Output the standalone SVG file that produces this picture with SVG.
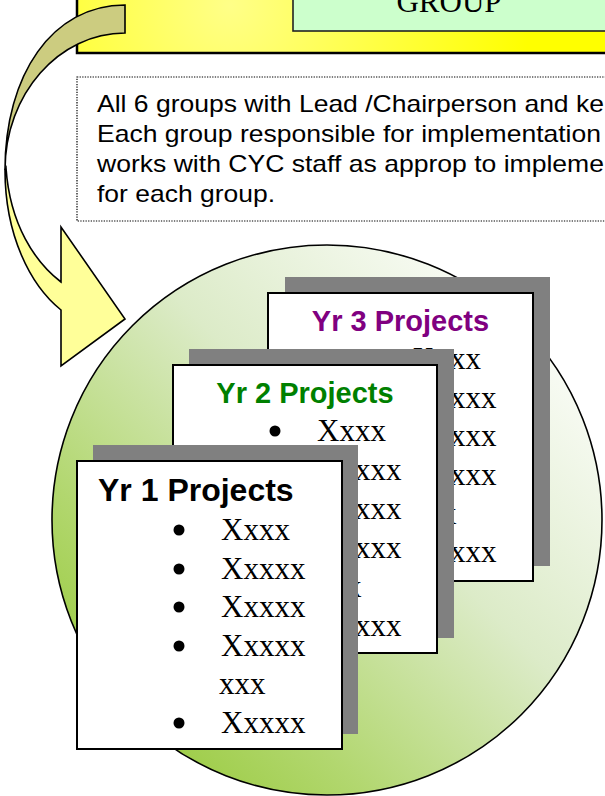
<svg xmlns="http://www.w3.org/2000/svg" width="605" height="796" viewBox="0 0 605 796">
  <defs>
    <radialGradient id="yellowFill" cx="230" cy="5" r="300" gradientUnits="userSpaceOnUse">
      <stop offset="0" stop-color="#ffff88"/>
      <stop offset="1" stop-color="#ffff00"/>
    </radialGradient>
    <linearGradient id="discFill" x1="0.95" y1="0.1" x2="0.15" y2="0.9">
      <stop offset="0" stop-color="#ffffff"/>
      <stop offset="0.45" stop-color="#dcebc8"/>
      <stop offset="0.8" stop-color="#b2d76f"/>
      <stop offset="1" stop-color="#9ccc44"/>
    </linearGradient>
    <style>
      .sans { font-family: "Liberation Sans", Arial, sans-serif; }
      .serif { font-family: "Liberation Serif", "Times New Roman", serif; }
      .note { font-size: 24px; fill: #000; }
      .card { fill: #ffffff; stroke: #000; stroke-width: 2; }
      .shadow { fill: #808080; }
      .title { font-size: 29px; font-weight: bold; }
      .title-lg { font-size: 32px; font-weight: bold; }
      .item { font-size: 31px; fill: #000; }
      .dot { fill: #000; }
      .outline { stroke: #000; stroke-width: 1.6; stroke-linejoin: miter; }
    </style>
  </defs>

  <rect width="605" height="796" fill="#ffffff"/>

  <!-- top banner with the group box -->
  <g id="banner">
    <rect x="77" y="-10" width="540" height="63" fill="url(#yellowFill)" stroke="#000" stroke-width="2.5"/>
    <g id="group-box">
      <rect x="293" y="-20" width="320" height="51" fill="#ccffcc" stroke="#222" stroke-width="1.6"/>
      <text class="serif" x="449" y="12" font-size="31" text-anchor="middle" fill="#000">GROUP</text>
    </g>
  </g>

  <!-- explanatory note -->
  <g id="note">
    <rect x="77" y="77" width="540" height="144" fill="none" stroke="#000" stroke-width="1.2" stroke-dasharray="1.3 1.3"/>
    <text class="sans note" x="97" y="112" textLength="507" lengthAdjust="spacingAndGlyphs">All 6 groups with Lead /Chairperson and ke</text>
    <text class="sans note" x="97" y="142" textLength="504" lengthAdjust="spacingAndGlyphs">Each group responsible for implementation</text>
    <text class="sans note" x="97" y="172" textLength="507" lengthAdjust="spacingAndGlyphs">works with CYC staff as approp to impleme</text>
    <text class="sans note" x="97" y="202" textLength="178" lengthAdjust="spacingAndGlyphs">for each group.</text>
  </g>

  <!-- curved block arrow from the banner down to the disc -->
  <g id="connectors">
    <path class="outline" fill="#cccc80" d="M125,5 C52,5 5,75 5,170 C5,94 59,33 125,33 Z"/>
    <path class="outline" fill="#ffff99" d="M5,170 C5,235 30,285 61,310 L61,366 L125,319 L61,227 L61,282 C35,262 10,225 6,168 Z"/>
  </g>

  <!-- disc behind the project cards -->
  <g id="disc">
    <circle cx="327" cy="520" r="275" fill="url(#discFill)" stroke="#000" stroke-width="1.6"/>
  </g>

  <!-- Year 3 card -->
  <g id="yr3">
    <rect class="shadow" x="285" y="277" width="265" height="289"/>
    <rect class="card" x="268" y="293" width="265" height="288"/>
    <text class="sans title" x="400.5" y="331" text-anchor="middle" fill="#800080">Yr 3 Projects</text>
    <circle class="dot" cx="370" cy="359" r="5.5"/>
    <text class="serif item" x="412" y="369">Xxxx</text>
    <circle class="dot" cx="370" cy="398" r="5.5"/>
    <text class="serif item" x="412" y="408">Xxxxx</text>
    <circle class="dot" cx="370" cy="436" r="5.5"/>
    <text class="serif item" x="412" y="446">Xxxxx</text>
    <circle class="dot" cx="370" cy="475" r="5.5"/>
    <text class="serif item" x="412" y="485">Xxxxx</text>
    <text class="serif item" x="410" y="524">xxx</text>
    <circle class="dot" cx="370" cy="552" r="5.5"/>
    <text class="serif item" x="412" y="562">Xxxxx</text>
  </g>

  <!-- Year 2 card -->
  <g id="yr2">
    <rect class="shadow" x="189" y="349" width="265" height="289"/>
    <rect class="card" x="173" y="365" width="264" height="288"/>
    <text class="sans title" x="305" y="403" text-anchor="middle" fill="#008000">Yr 2 Projects</text>
    <circle class="dot" cx="275" cy="431" r="5.5"/>
    <text class="serif item" x="317" y="441">Xxxx</text>
    <circle class="dot" cx="275" cy="470" r="5.5"/>
    <text class="serif item" x="317" y="480">Xxxxx</text>
    <circle class="dot" cx="275" cy="509" r="5.5"/>
    <text class="serif item" x="317" y="519">Xxxxx</text>
    <circle class="dot" cx="275" cy="548" r="5.5"/>
    <text class="serif item" x="317" y="558">Xxxxx</text>
    <text class="serif item" x="315" y="597">xxx</text>
    <circle class="dot" cx="275" cy="626" r="5.5"/>
    <text class="serif item" x="317" y="636">Xxxxx</text>
  </g>

  <!-- Year 1 card -->
  <g id="yr1">
    <rect class="shadow" x="93" y="445" width="265" height="289"/>
    <rect class="card" x="77" y="461" width="265" height="288"/>
    <text class="sans title-lg" x="98" y="501" fill="#000">Yr 1 Projects</text>
    <circle class="dot" cx="179" cy="530" r="5.5"/>
    <text class="serif item" x="221" y="540">Xxxx</text>
    <circle class="dot" cx="179" cy="569" r="5.5"/>
    <text class="serif item" x="221" y="579">Xxxxx</text>
    <circle class="dot" cx="179" cy="607" r="5.5"/>
    <text class="serif item" x="221" y="617">Xxxxx</text>
    <circle class="dot" cx="179" cy="646" r="5.5"/>
    <text class="serif item" x="221" y="656">Xxxxx</text>
    <text class="serif item" x="219" y="694">xxx</text>
    <circle class="dot" cx="179" cy="723" r="5.5"/>
    <text class="serif item" x="221" y="733">Xxxxx</text>
  </g>
</svg>
